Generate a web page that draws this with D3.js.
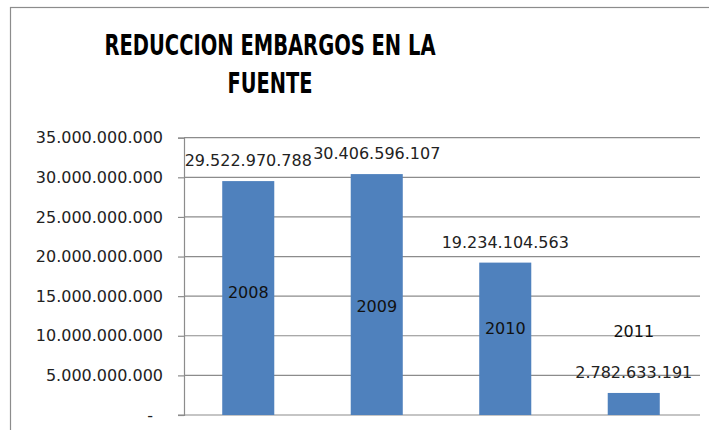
<!DOCTYPE html>
<html>
<head>
<meta charset="utf-8">
<script src="https://cdn.jsdelivr.net/npm/d3@7"></script>
<style>
  body { margin: 0; background: #fff; }
</style>
</head>
<body>
<script>
let width = 709;
let height = 430;

// chart data
var years = ['2008', '2009', '2010', '2011'];
var values = [29522970788, 30406596107, 19234104563, 2782633191];
// where the year label sits, in axis units
var yearLabelAt = [15460000000, 13760000000, 10920000000, 10600000000];
var yTicks = [0, 5e9, 10e9, 15e9, 20e9, 25e9, 30e9, 35e9];
var titleLines = ['REDUCCION EMBARGOS EN LA', 'FUENTE'];

let plotLeft = 184;
let plotRight = 698;
let plotTop = 137.7;
let plotBottom = 415;

var esLocale = d3.formatLocale({ decimal: ',', thousands: '.', grouping: [3], currency: ['$', ''] });
var fmt = esLocale.format(',.0f');

var svg = d3.select('body')
            .append('svg')
            .attr('width', width)
            .attr('height', height);

// outer chart border (right/bottom fall outside the picture)
svg.append('rect')
   .attr('x', 10.5).attr('y', 7.5)
   .attr('width', 720).attr('height', 440)
   .attr('fill', 'none').attr('stroke', '#8c8c8c').attr('stroke-width', 1.2);

// title
var titleY = [55, 92.7];
var titleW = [331, 85];
titleLines.forEach(function(t, i) {
  svg.append('text')
     .attr('x', 270).attr('y', titleY[i])
     .attr('text-anchor', 'middle')
     .attr('textLength', titleW[i])
     .attr('lengthAdjust', 'spacingAndGlyphs')
     .style('font-family', '"Liberation Sans Narrow", "DejaVu Sans Condensed", "Liberation Sans", sans-serif')
     .style('font-weight', 'bold')
     .style('font-size', '28.5px')
     .style('fill', '#000')
     .text(t);
});

var x = d3.scaleBand().domain(years).range([plotLeft, plotRight]).padding(0);
var y = d3.scaleLinear().domain([0, 35e9]).range([plotBottom, plotTop]);

// gridlines
svg.append('g').selectAll('line')
   .data(yTicks.filter(function(d) { return d > 0; }))
   .enter().append('line')
   .attr('x1', plotLeft).attr('x2', 700)
   .attr('y1', function(d) { return y(d); })
   .attr('y2', function(d) { return y(d); })
   .attr('stroke', '#8c8c8c').attr('stroke-width', 1.2);

// y axis
var yAxis = svg.append('g')
   .attr('transform', 'translate(' + plotLeft + ',0)')
   .call(d3.axisLeft(y).tickValues(yTicks).tickSize(6).tickPadding(15)
           .tickFormat(function(d) { return d === 0 ? '-' : fmt(d); }));
yAxis.select('.domain').attr('stroke', '#8c8c8c').attr('stroke-width', 1.2);
yAxis.selectAll('.tick line').attr('stroke', '#8c8c8c').attr('stroke-width', 1.2);
yAxis.selectAll('.tick text')
     .style('font-family', '"DejaVu Sans", sans-serif')
     .style('font-size', '16px')
     .style('fill', '#222');
yAxis.selectAll('.tick').filter(function(d) { return d === 0; }).select('text')
     .attr('x', -31).attr('dy', '0.35em');

// baseline
svg.append('line')
   .attr('x1', plotLeft - 6).attr('x2', 700)
   .attr('y1', plotBottom).attr('y2', plotBottom)
   .attr('stroke', '#8c8c8c').attr('stroke-width', 1.2);

var barW = x.bandwidth() * 0.405;

// bars
svg.append('g').selectAll('rect')
   .data(values)
   .enter().append('rect')
   .attr('x', function(d, i) { return x(years[i]) + x.bandwidth() / 2 - barW / 2; })
   .attr('y', function(d) { return y(d); })
   .attr('width', barW)
   .attr('height', function(d) { return plotBottom - y(d); })
   .attr('fill', '#4f81bd');

// value labels
svg.append('g').selectAll('text')
   .data(values)
   .enter().append('text')
   .attr('x', function(d, i) { return x(years[i]) + x.bandwidth() / 2; })
   .attr('y', function(d) { return y(d) - 15; })
   .attr('text-anchor', 'middle')
   .style('font-family', '"DejaVu Sans", sans-serif')
   .style('font-size', '16px')
   .style('fill', '#222')
   .text(function(d) { return fmt(d); });

// year labels
svg.append('g').selectAll('text')
   .data(years)
   .enter().append('text')
   .attr('x', function(d) { return x(d) + x.bandwidth() / 2; })
   .attr('y', function(d, i) { return y(yearLabelAt[i]); })
   .attr('dy', '0.36em')
   .attr('text-anchor', 'middle')
   .style('font-family', '"DejaVu Sans", sans-serif')
   .style('font-size', '16px')
   .style('fill', '#111')
   .text(function(d) { return d; });
</script>
</body>
</html>
